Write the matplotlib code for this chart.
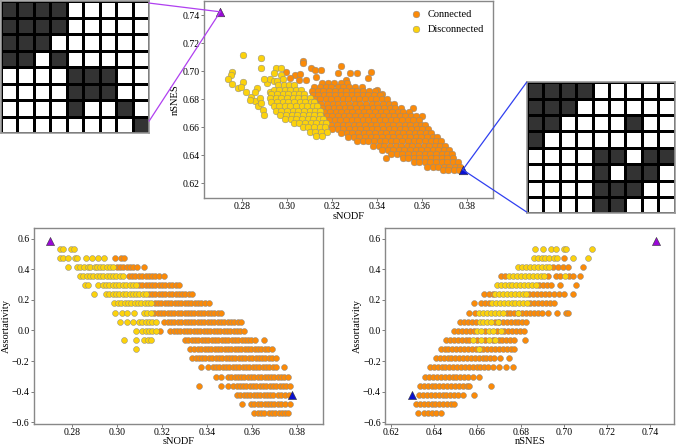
import numpy as np
import matplotlib.pyplot as plt
from matplotlib.colors import ListedColormap
from matplotlib.patches import ConnectionPatch

plt.rcParams['font.family'] = ['Liberation Serif', 'DejaVu Serif']
plt.rcParams['axes.unicode_minus'] = True

# colours
c_conn = '#fb8a08'
c_disc = '#fcd20c'
hl_colors = ['#9a08d8', '#0a10d0']
line_colors = ['#b040f0', '#3040f0']

# two highlighted networks (purple = A, blue = B)
hl_snodf = [0.2705, 0.378]
hl_nsnes = [0.7425, 0.6297]
hl_assort = [0.587, -0.423]

# adjacency matrices of the two highlighted networks
mat_a = [[1, 1, 1, 1, 0, 0, 0, 0, 0],
         [1, 1, 1, 1, 0, 0, 0, 0, 0],
         [1, 1, 1, 0, 0, 0, 0, 0, 0],
         [1, 1, 0, 1, 0, 0, 0, 0, 0],
         [0, 0, 0, 0, 1, 1, 1, 0, 0],
         [0, 0, 0, 0, 1, 1, 1, 0, 0],
         [0, 0, 0, 0, 1, 0, 0, 1, 0],
         [0, 0, 0, 0, 0, 0, 0, 0, 1]]
mat_b = [[1, 1, 1, 1, 0, 0, 0, 0, 0],
         [1, 1, 1, 0, 0, 0, 0, 0, 0],
         [1, 1, 0, 0, 0, 0, 1, 0, 0],
         [1, 0, 0, 0, 0, 0, 0, 0, 0],
         [0, 0, 0, 0, 1, 1, 0, 1, 1],
         [0, 0, 0, 0, 1, 0, 1, 1, 0],
         [0, 0, 0, 0, 1, 1, 1, 0, 0],
         [0, 0, 0, 0, 1, 1, 0, 0, 0]]

# ---- top panel: sNODF (x) vs nSNES (y), values in thousandths ----
# scattered connected networks
top_conn_sx = [307.2, 307.2, 299.5, 303.5, 305.7, 308.6, 310.9, 312.4, 315.0, 312.8, 324.2, 322.7, 328.2,
               326.4, 330.9, 337.2, 336.1, 339.8, 338.7, 342.0, 355.8, 359.8, 343.8, 361.2, 301.2, 305.4]
top_conn_sy = [707.4, 705.7, 699.8, 697.4, 698.1, 693.8, 702.1, 701.0, 701.0, 696.2, 703.8, 699.0, 698.6,
               693.8, 699.0, 699.8, 695.0, 686.7, 681.9, 683.6, 674.0, 668.3, 638.1, 660.5, 695.0, 693.8]
# dense connected cloud, row by row (nSNES level -> sNODF values)
top_conn_levels = [692, 689, 686, 683, 680, 677, 674, 671, 668, 665, 662, 659, 656, 653, 650, 647, 644,
                   641, 638, 635, 632, 629.5]
top_conn_rows = [
    [315.5, 318.2, 321, 324.1, 326.5],
    [312, 314.6, 317.3, 319.8, 322.5, 325, 327.6, 330.4, 333.2],
    [311.2, 313.7, 316.1, 318.9, 321.3, 323.9, 326.2, 328.8, 331.3, 333.9, 336.4, 339],
    [311.5, 313.9, 316.4, 318.7, 321.2, 323.8, 326.4, 328.7, 331.2, 333.8, 336.1, 338.7, 341.2],
    [312.3, 314.8, 317.2, 319.6, 322.2, 324.7, 327.1, 329.8, 332.1, 334.6, 337.2, 339.6, 342.1, 344.3],
    [312.8, 315.2, 317.7, 320.3, 322.6, 325.1, 327.7, 330.2, 332.6, 335.2, 337.6, 340.1, 342.7, 345.1, 347.6],
    [313.4, 315.8, 318.3, 320.7, 323.2, 325.8, 328.2, 330.7, 333.3, 335.7, 338.2, 340.6, 343.2, 345.6, 348.1,
     350.7],
    [314.3, 316.7, 319.2, 321.6, 324.2, 326.6, 329.1, 331.7, 334.1, 336.6, 339.2, 341.6, 344.1, 346.7, 349.1,
     351.6, 354.2],
    [315.2, 317.7, 320.1, 322.6, 325.2, 327.6, 330.1, 332.7, 335.1, 337.6, 340.2, 342.6, 345.1, 347.7, 350.1,
     352.6, 355.1, 357.3],
    [316.3, 318.7, 321.2, 323.6, 326.1, 328.7, 331.1, 333.6, 336.2, 338.6, 341.1, 343.7, 346.1, 348.6, 351.2,
     353.6, 356.1, 358.6],
    [317.3, 319.7, 322.2, 324.7, 327.2, 329.6, 332.1, 334.7, 337.2, 339.6, 342.1, 344.7, 347.1, 349.6, 352.2,
     354.6, 357.1, 359.7, 361.4],
    [320.2, 322.6, 325.1, 327.7, 330.1, 332.6, 335.2, 337.6, 340.1, 342.7, 345.1, 347.6, 350.2, 352.6, 355.1,
     357.7, 360.1, 362.6],
    [324.1, 326.7, 329.1, 331.6, 334.2, 336.6, 339.1, 341.7, 344.1, 346.6, 349.2, 351.6, 354.1, 356.7, 359.1,
     361.6, 364.1],
    [327.2, 329.7, 332.1, 334.6, 337.2, 339.6, 342.1, 344.7, 347.1, 349.6, 352.2, 354.6, 357.1, 359.7, 362.1,
     364.6, 366.7],
    [331.2, 333.7, 336.2, 338.6, 341.1, 343.7, 346.2, 348.6, 351.1, 353.7, 356.2, 358.6, 361.1, 363.7, 366.1,
     368.3],
    [338.2, 340.7, 343.1, 345.6, 348.2, 350.6, 353.1, 355.7, 358.1, 360.6, 363.2, 365.6, 368.1, 370.2],
    [342.3, 344.7, 347.2, 349.6, 352.1, 354.7, 357.2, 359.6, 362.1, 364.7, 367.1, 369.6, 371.7],
    [346.2, 348.7, 351.1, 353.6, 356.2, 358.7, 361.1, 363.6, 366.2, 368.6, 371.1, 373.2],
    [351.3, 353.7, 356.2, 358.6, 361.1, 363.7, 366.1, 368.6, 371.2, 373.6],
    [356.2, 358.7, 361.1, 363.6, 366.2, 368.6, 371.1, 373.7, 375.7],
    [362.2, 364.6, 367.1, 369.7, 372.1, 374.6, 376.7],
    [369.2, 371.6, 374.2, 376.3],
]
# scattered disconnected networks
top_disc_sx = [280.8, 288.6, 288.6, 275.6, 275.3, 274.1, 275.6, 280.8, 278.3, 279.8, 282.0, 284.2, 285.7,
               287.2, 289.4, 290.1, 286.7, 291.2, 292.4, 290.1, 295.3, 297.5, 294.3, 294.3, 295.8, 297.5,
               298.3, 292.4, 285.7, 287.9, 283.5, 288.6]
top_disc_sy = [711.7, 709.3, 702.6, 699.3, 697.4, 694.5, 690.7, 692.6, 687.9, 688.6, 685.5, 681.9, 678.8,
               675.2, 672.4, 668.8, 688.3, 691.9, 694.5, 694.5, 702.1, 702.1, 699.0, 693.1, 693.1, 697.4,
               694.3, 685.5, 685.5, 680.7, 679.5, 677.1]
top_disc_levels = [690, 687, 684, 681, 678, 675, 672, 669, 666, 663, 660, 657, 654]
top_disc_rows = [
    [296.2, 298.7, 301.1, 303.3],
    [294.1, 296.6, 299.2, 301.6, 304.1, 306.2],
    [293.2, 295.7, 298.1, 300.6, 303.2, 305.6, 307.7],
    [292.6, 295.1, 297.6, 300.2, 302.6, 305.1, 307.7, 310.1],
    [293.1, 295.6, 298.2, 300.6, 303.1, 305.7, 308.1, 310.6, 312.2],
    [294.2, 296.7, 299.1, 301.6, 304.2, 306.6, 309.1, 311.7, 313.6],
    [295.2, 297.6, 300.1, 302.7, 305.1, 307.6, 310.2, 312.6, 314.6],
    [297.1, 299.6, 302.2, 304.6, 307.1, 309.7, 312.1, 314.6],
    [299.2, 301.7, 304.1, 306.6, 309.2, 311.6, 314.1, 316.2],
    [303.1, 305.6, 308.2, 310.6, 313.1, 315.7, 317.2],
    [307.2, 309.6, 312.1, 314.7, 317.1],
    [310.2, 312.6, 315.1, 317.6],
    [313.1, 315.6],
]

# ---- bottom panels: assortativity takes discrete levels (thousandths) ----
assort_levels = [533, 473, 412, 354, 295, 235, 176, 116, 57, -3, -64, -122, -183, -241, -302, -362,
                 -421, -479, -537]

# sNODF per assortativity level
bl_disc_rows = [
    [274.9, 276, 279.8, 281.2],
    [274.9, 276, 278.6, 281.5, 282.6, 286.5, 288.9, 291.5, 294.2],
    [278.4, 282.6, 283.8, 285.3, 287.1, 288.2, 290.2, 291.2, 292.6, 294.1, 295.6, 297.1, 298.5],
    [283.7, 285.2, 286.6, 288.1, 289.6, 291.1, 292.6, 294, 295.5, 297, 298.5, 299.9, 301.4, 302.9],
    [285.9, 287.4, 291.5, 293.8, 295.3, 296.8, 298.3, 299.7, 301.2, 302.7, 304.2, 305.7, 307.2, 308.6],
    [290.1, 295.3, 296.8, 298.3, 299.7, 301.2, 302.7, 304.2, 305.7, 307.2, 308.6, 310.1, 311.6, 313.1],
    [299, 300.5, 302, 303.5, 305, 306.4, 307.9, 309.4, 310.9, 312.4, 313.9, 315.4],
    [299.3, 302.3, 304.6, 307.5, 312, 313.5, 315],
    [301.5, 304.4, 307.1, 309.7, 311.3, 312.8, 314.3, 315.8, 317.3],
    [308.7, 311.3, 312.8, 314.3, 315.8, 317.3],
    [303.4, 308.5, 312.3, 313.8, 315.3],
    [308.5],
    [], [], [], [], [], [], [],
]
bl_conn_rows = [
    [],
    [299.3, 301.8, 303.3],
    [300, 301.5, 303, 304.5, 305.9, 307.4, 309, 312.3],
    [305.3, 306.8, 308.3, 309.8, 311.3, 312.8, 314.2, 315.7, 317.2, 318.7, 320.9],
    [309.8, 311.3, 312.8, 314.2, 315.7, 317.2, 318.7, 320.2, 321.6, 323.1, 324.6, 326.1, 327.6],
    [314.2, 315.7, 317.2, 318.7, 320.2, 321.6, 323.1, 324.6, 326.1, 327.6, 329, 330.5, 332, 333.5],
    [316.8, 318.3, 319.8, 321.3, 322.7, 324.2, 325.7, 327.2, 328.7, 330.2, 331.6, 333.1, 334.6, 336.1,
     337.5, 339, 340.9],
    [316.7, 318.2, 319.7, 321.2, 322.7, 324.1, 325.6, 327.1, 328.6, 330.1, 331.5, 333, 334.5, 336, 337.4,
     338.9, 340.4, 341.9, 343.4, 344.8, 346.3],
    [321.2, 322.7, 324.2, 325.6, 327.1, 328.6, 330.1, 331.6, 333, 334.5, 336, 337.5, 338.9, 340.4, 341.9,
     343.4, 344.8, 346.3, 347.8, 349.3, 350.8, 352.2, 353.7, 355.1],
    [319.2, 323.8, 325.3, 326.8, 328.3, 329.7, 331.2, 332.7, 334.2, 335.7, 337.1, 338.6, 340.1, 341.6, 343,
     344.5, 346, 347.5, 348.9, 350.4, 351.9, 353.4, 354.9, 356.3],
    [330.3, 331.8, 333.3, 334.8, 336.2, 337.7, 339.2, 340.7, 342.1, 343.6, 345.1, 346.6, 348, 349.5, 351,
     352.5, 353.9, 355.4, 356.9, 358.4, 359.8, 361.3, 365.4],
    [332.6, 334.1, 336.1, 337.6, 339.1, 340.5, 342, 343.5, 345, 346.5, 347.9, 349.4, 350.9, 352.4, 353.8,
     355.3, 356.8, 358.3, 359.7, 361.2, 362.7, 364.2, 365.6, 367.1, 368.7],
    [333.5, 335, 336.5, 338, 339.4, 340.9, 342.4, 343.9, 345.3, 346.8, 348.3, 349.8, 351.2, 352.7, 354.2,
     355.7, 357.1, 358.6, 360.1, 361.6, 363, 364.5, 366, 367.5, 368.9, 370.6],
    [337.6, 340.5, 342.6, 344.1, 345.6, 347.1, 348.5, 350, 351.5, 353, 354.4, 355.9, 357.4, 358.9, 360.3,
     361.8, 363.3, 364.8, 366.2, 367.7, 369.2, 370.7, 374.4],
    [344.1, 346.4, 349.3, 350.8, 352.3, 353.8, 355.2, 356.7, 358.2, 359.7, 361.1, 362.6, 364.1, 365.6, 367,
     368.5, 370, 371.5, 372.9, 374.4, 376],
    [336.4, 346.4, 349.5, 351.7, 353.2, 354.6, 356.1, 357.6, 359.1, 360.5, 362, 363.5, 365, 366.4, 367.9,
     369.4, 370.9, 372.3, 373.8, 375.3, 376.7],
    [353.3, 354.8, 356.3, 357.8, 359.3, 360.8, 362.3, 363.8, 365.3, 366.8, 368.2, 369.2, 371.5, 373, 374.5,
     376.4],
    [355.5, 359.6, 361.1, 362.6, 364.1, 365.6, 367.1, 368.6, 370, 371.5, 373, 374.5, 376.7],
    [361, 362.5, 364, 365.5, 367.4, 368.9, 370.4, 371.9, 373.4, 374.9, 376],
]

# nSNES per assortativity level
br_disc_rows = [
    [686.6, 690.5, 694, 696.4, 699.9, 701, 713],
    [686, 687.9, 689.7, 691.4, 693.3, 695.6, 696.7, 704.4, 711],
    [679, 680.8, 682.6, 684.4, 686.2, 688, 689.8, 691.6, 693.3],
    [674.8, 676.6, 678.4, 680.2, 682, 683.8, 685.6, 687.4, 689.2, 691, 700.7],
    [669, 670.8, 672.6, 674.4, 676.2, 678, 679.8, 681.6, 683.4, 685.2, 687],
    [668.3, 670.1, 671.9, 673.7, 675.5, 677.3, 679.1, 680.9, 682.5],
    [666.8, 668.6, 670.4, 672.2, 674, 675.8, 677.6, 679.4, 681.2, 682.8],
    [660.9, 662.7, 664.5, 666.3, 668.1, 669.9, 671.7, 678.6],
    [661, 662.8, 664.6, 666.4, 669.5],
    [660, 661.8, 665.4, 667.2, 670.8],
    [658, 661.6, 665.2, 668],
    [660.6],
    [], [], [], [], [], [], [],
]
br_conn_rows = [
    [],
    [700.2],
    [694.8, 697.1, 699.4, 702, 709],
    [670.9, 673, 692.8, 696.4, 698.2, 702.5, 704, 707.6],
    [688.5, 690.3, 692.1, 694, 698.2, 705.6],
    [663.2, 665.5, 667, 684, 685.8, 687.6, 689.4, 691.2, 693, 695.6, 697.9, 700.2, 704.4],
    [658.3, 661.6, 663.4, 665.2, 684.4, 686.2, 688, 689.8, 691.6, 693.4, 695.6],
    [656.2, 659, 673.5, 675.3, 677.1, 678.9, 680.7, 682.5, 684.3, 686.1, 687.9, 690, 692.5, 696.7, 701, 702],
    [652.1, 653.9, 655.7, 657.5, 659.3, 668.2, 670, 671.8, 673.6, 675.4, 677.2, 679, 680.8, 682.6],
    [649.3, 651.1, 652.9, 654.7, 656.5, 658.3, 663.6, 669, 672.5, 674.3, 676.1, 677.9, 679.7, 681.5],
    [645.5, 647.3, 649.1, 650.9, 652.7, 654.5, 656.2, 659.8, 663.4, 667, 669.8, 671.6, 673.4, 675.2, 677,
     682.2],
    [643, 644.8, 646.6, 648.4, 650.2, 652, 653.8, 655.6, 657.4, 659.2, 661, 662.8, 664.6, 666.4, 668.2, 670,
     671.8, 673.6, 675.4, 677.1],
    [640.8, 642.6, 644.4, 646.2, 648, 649.8, 651.6, 653.4, 655.2, 657, 658.8, 660.6, 662.4, 664.2, 666, 667.8,
     670.4, 674.8],
    [638, 639.8, 641.6, 643.4, 645.2, 647, 648.8, 650.6, 652.4, 654.2, 656, 657.8, 659.6, 661.4, 663.2,
     664.7, 667, 670.1, 673.2, 676.3],
    [635.9, 637.7, 639.5, 641.3, 643.1, 644.9, 646.7, 648.5, 650.3, 652.1, 653.9, 655.7, 657.8, 660.9],
    [633.4, 635.2, 637, 638.8, 640.6, 642.4, 644.2, 646, 647.8, 649.6, 651.4, 653.2, 655, 656.2, 666.3],
    [633.1, 634.9, 636.7, 638.5, 640.3, 642.1, 643.9, 645.7, 647.5, 649.3, 651.1, 653.2, 658.6],
    [631.6, 633.4, 635.2, 637, 638.8, 640.6, 642.4, 644.2, 646, 647.8, 649.3],
    [632.3, 635.4, 637.2, 639, 640.8, 643.1],
]


def rows_to_xy(levels, rows):
    # turn row lists into flat x / y arrays (thousandths -> real values)
    xs, ys = [], []
    for lv, r in zip(levels, rows):
        xs += r
        ys += [lv] * len(r)
    return np.array(xs) / 1000, np.array(ys) / 1000


def style_axes(ax):
    for s in ax.spines.values():
        s.set_color('#888888')
        s.set_linewidth(1.0)
    ax.tick_params(labelsize=7, length=2, width=0.6, color='#666666', pad=1.2)


def draw_matrix(ax, m):
    ax.pcolormesh(np.array(m), cmap=ListedColormap(['white', '#333333']), vmin=0, vmax=1,
                  edgecolors='black', linewidth=1.0)
    ax.set_xlim(0, len(m[0]))
    ax.set_ylim(len(m), 0)
    ax.set_xticks([])
    ax.set_yticks([])
    for s in ax.spines.values():
        s.set_color('#999999')
        s.set_linewidth(1.2)


fig = plt.figure(figsize=(6.76, 4.48), dpi=100)
ax_top = fig.add_axes([0.3018, 0.558, 0.4275, 0.4397])
ax_bl = fig.add_axes([0.0503, 0.0535, 0.427, 0.437])
ax_br = fig.add_axes([0.570, 0.0535, 0.4275, 0.437])
ax_ma = fig.add_axes([0.0015, 0.703, 0.219, 0.2946])
ax_mb = fig.add_axes([0.779, 0.5239, 0.2194, 0.2924])

sc_kw = dict(edgecolors='#8a8a8a', linewidths=0.35)

# top panel
cx, cy = rows_to_xy(top_conn_levels, top_conn_rows)
cx = np.concatenate([np.array(top_conn_sx) / 1000, cx])
cy = np.concatenate([np.array(top_conn_sy) / 1000, cy])
dx, dy = rows_to_xy(top_disc_levels, top_disc_rows)
dx = np.concatenate([np.array(top_disc_sx) / 1000, dx])
dy = np.concatenate([np.array(top_disc_sy) / 1000, dy])
ax_top.scatter(cx, cy, s=23, c=c_conn, label='Connected', **sc_kw)
ax_top.scatter(dx, dy, s=23, c=c_disc, label='Disconnected', **sc_kw)
for i in range(2):
    ax_top.scatter(hl_snodf[i], hl_nsnes[i], s=38, marker='^', c=hl_colors[i], edgecolors='#333333',
                   linewidths=0.4, zorder=5)
ax_top.set_xlim(0.2633, 0.3914)
ax_top.set_ylim(0.6095, 0.7502)
ax_top.set_xticks(np.arange(0.28, 0.381, 0.02))
ax_top.set_yticks(np.arange(0.62, 0.741, 0.02))
ax_top.set_xlabel('sNODF', fontsize=7.5, labelpad=0.5)
ax_top.set_ylabel('nSNES', fontsize=7.5, labelpad=1.5)
ax_top.legend(loc='upper right', frameon=False, fontsize=7.5, handletextpad=0.1, labelspacing=0.5,
              borderaxespad=0.45, markerscale=1.0)
style_axes(ax_top)

# bottom left: sNODF vs assortativity
cx, cy = rows_to_xy(assort_levels, bl_conn_rows)
dx, dy = rows_to_xy(assort_levels, bl_disc_rows)
ax_bl.scatter(cx, cy, s=18, c=c_conn, **sc_kw)
ax_bl.scatter(dx, dy, s=18, c=c_disc, **sc_kw)
for i in range(2):
    ax_bl.scatter(hl_snodf[i], hl_assort[i], s=34, marker='^', c=hl_colors[i], edgecolors='#333333',
                  linewidths=0.4, zorder=5)
ax_bl.set_xlim(0.2633, 0.3914)
ax_bl.set_ylim(-0.611, 0.667)
ax_bl.set_xticks(np.arange(0.28, 0.381, 0.02))
ax_bl.set_yticks(np.arange(-0.6, 0.61, 0.2))
ax_bl.set_xlabel('sNODF', fontsize=7.5, labelpad=0)
ax_bl.set_ylabel('Assortativity', fontsize=7.5, labelpad=0.5)
style_axes(ax_bl)

# bottom right: nSNES vs assortativity
cx, cy = rows_to_xy(assort_levels, br_conn_rows)
dx, dy = rows_to_xy(assort_levels, br_disc_rows)
ax_br.scatter(cx, cy, s=18, c=c_conn, **sc_kw)
ax_br.scatter(dx, dy, s=18, c=c_disc, **sc_kw)
for i in range(2):
    ax_br.scatter(hl_nsnes[i], hl_assort[i], s=34, marker='^', c=hl_colors[i], edgecolors='#333333',
                  linewidths=0.4, zorder=5)
ax_br.set_xlim(0.6174, 0.7511)
ax_br.set_ylim(-0.611, 0.667)
ax_br.set_xticks(np.arange(0.62, 0.741, 0.02))
ax_br.set_yticks(np.arange(-0.6, 0.61, 0.2))
ax_br.set_xlabel('nSNES', fontsize=7.5, labelpad=0)
ax_br.set_ylabel('Assortativity', fontsize=7.5, labelpad=0.5)
style_axes(ax_br)

# matrices
draw_matrix(ax_ma, mat_a)
draw_matrix(ax_mb, mat_b)

# connector lines from the triangles to the matrices
for ya in [0.985, 0.09]:
    con = ConnectionPatch(xyA=(1, ya), coordsA=ax_ma.transAxes, xyB=(hl_snodf[0], hl_nsnes[0]),
                          coordsB=ax_top.transData, color=line_colors[0], lw=0.9, shrinkA=0, shrinkB=0)
    fig.add_artist(con)
for ya in [1.0, 0.01]:
    con = ConnectionPatch(xyA=(0, ya), coordsA=ax_mb.transAxes, xyB=(hl_snodf[1], hl_nsnes[1]),
                          coordsB=ax_top.transData, color=line_colors[1], lw=0.9, shrinkA=0, shrinkB=0)
    fig.add_artist(con)

fig.savefig('out.png', dpi=100)
